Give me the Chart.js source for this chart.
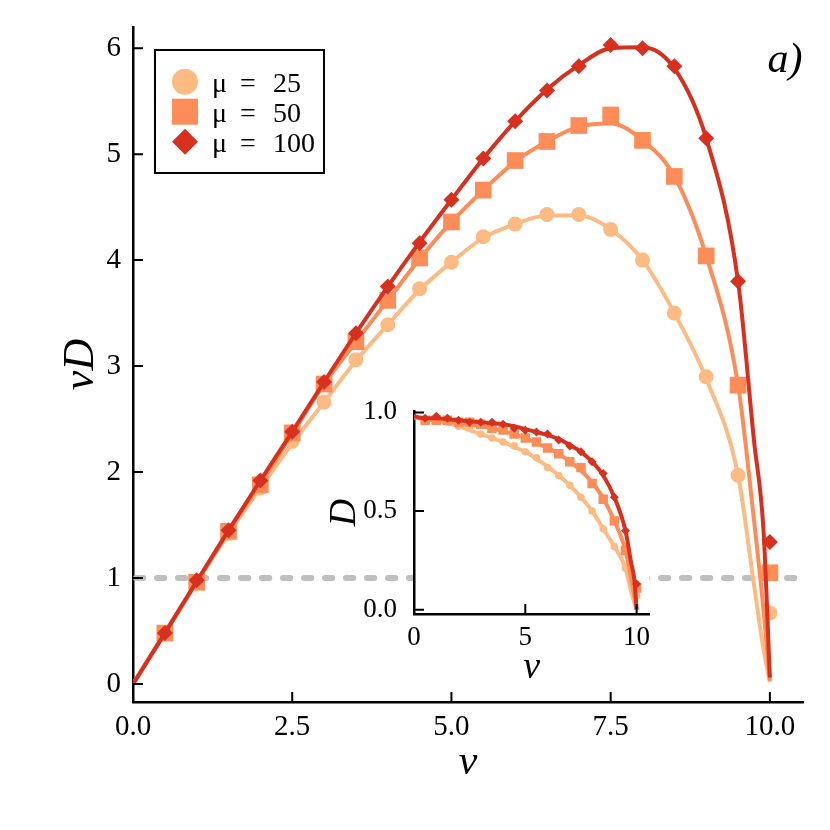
<!DOCTYPE html>
<html>
<head>
<meta charset="utf-8">
<script src="https://cdn.jsdelivr.net/npm/chart.js@4.4.1/dist/chart.umd.min.js"></script>
<style>
  html, body { margin: 0; padding: 0; background: #fff; }
  #wrap { position: relative; width: 830px; height: 830px; }
  #main { position: absolute; left: 0; top: 0; }
  #inset { position: absolute; left: 300px; top: 380px; }
</style>
</head>
<body>
<div id="wrap">
  <canvas id="main" width="830" height="830"></canvas>
  <canvas id="inset" width="380" height="320"></canvas>
</div>
<script>
// nu values of the markers and of the sampled theory curves
const markerNu = [0.5, 1, 1.5, 2, 2.5, 3, 3.5, 4, 4.5, 5, 5.5, 6, 6.5, 7, 7.5, 8, 8.5, 9, 9.5, 10];
const curveNu = [0, 0.5, 1, 1.5, 2, 2.5, 3, 3.5, 4, 4.5, 5, 5.5, 6, 6.5, 7, 7.5, 8, 8.5, 9, 9.5, 9.75, 9.9, 10];

// main panel: nu*D
const mark25 = [0.48, 0.96, 1.42, 1.85, 2.29, 2.66, 3.06, 3.39, 3.73, 3.98, 4.22, 4.34, 4.43, 4.43, 4.29, 4.00, 3.50, 2.90, 1.97, 0.67];
const mark50 = [0.48, 0.96, 1.44, 1.88, 2.37, 2.83, 3.23, 3.62, 4.02, 4.36, 4.66, 4.94, 5.12, 5.27, 5.37, 5.13, 4.79, 4.04, 2.82, 1.05];
const mark100 = [0.48, 0.98, 1.45, 1.92, 2.38, 2.85, 3.31, 3.75, 4.16, 4.57, 4.96, 5.31, 5.60, 5.83, 6.03, 6.00, 5.83, 5.15, 3.80, 1.34];
const curve25 = [0, 0.48, 0.96, 1.42, 1.85, 2.27, 2.66, 3.05, 3.39, 3.72, 3.98, 4.21, 4.34, 4.42, 4.42, 4.29, 4.00, 3.50, 2.88, 1.97, 0.94, 0.33, 0.02];
const curve50 = [0, 0.48, 0.96, 1.44, 1.89, 2.36, 2.83, 3.23, 3.62, 4.01, 4.36, 4.66, 4.93, 5.12, 5.26, 5.29, 5.13, 4.79, 4.04, 2.82, 1.55, 0.70, 0.03];
const curve100 = [0, 0.48, 0.97, 1.45, 1.92, 2.38, 2.85, 3.31, 3.75, 4.17, 4.57, 4.96, 5.31, 5.61, 5.84, 6.00, 6.01, 5.81, 5.15, 3.80, 2.30, 1.45, 0.06];

// inset: D
const dMark25 = [0.96, 0.96, 0.95, 0.93, 0.92, 0.89, 0.87, 0.85, 0.83, 0.80, 0.77, 0.72, 0.68, 0.63, 0.57, 0.50, 0.41, 0.32, 0.21, 0.07];
const dMark50 = [0.96, 0.96, 0.96, 0.95, 0.95, 0.94, 0.92, 0.91, 0.89, 0.87, 0.85, 0.82, 0.79, 0.75, 0.72, 0.64, 0.56, 0.45, 0.30, 0.11];
const dMark100 = [0.97, 0.98, 0.97, 0.96, 0.95, 0.95, 0.95, 0.94, 0.92, 0.91, 0.90, 0.89, 0.86, 0.83, 0.80, 0.75, 0.69, 0.57, 0.40, 0.13];
const dCurve25 = [0.975, 0.965, 0.955, 0.945, 0.93, 0.91, 0.89, 0.87, 0.85, 0.825, 0.80, 0.765, 0.725, 0.68, 0.63, 0.57, 0.50, 0.41, 0.32, 0.21, 0.095, 0.035, 0];
const dCurve50 = [0.975, 0.965, 0.96, 0.955, 0.945, 0.94, 0.93, 0.92, 0.905, 0.89, 0.87, 0.845, 0.82, 0.79, 0.75, 0.705, 0.645, 0.565, 0.45, 0.30, 0.16, 0.07, 0];
const dCurve100 = [0.98, 0.97, 0.97, 0.965, 0.96, 0.955, 0.95, 0.945, 0.94, 0.93, 0.915, 0.90, 0.885, 0.865, 0.835, 0.80, 0.75, 0.68, 0.57, 0.40, 0.24, 0.15, 0];

const seriesLabels = ['μ = 25', 'μ = 50', 'μ = 100'];
const xTicks = [0, 2.5, 5, 7.5, 10];
const yTicks = [0, 1, 2, 3, 4, 5, 6];
const insetXTicks = [0, 5, 10];
const insetYTicks = [0, 0.5, 1];
const threshold = 1;

const colors = ['#fdbb84', '#fc8d59', '#d7301f'];
const styles = ['circle', 'rect', 'rectRot'];
const serif = "'Liberation Serif', 'DejaVu Serif', serif";

Chart.defaults.font.family = serif;
Chart.defaults.color = '#000';

function points( xs, ys ) {
	return xs.map( ( x, i ) => ( { x: x, y: ys[ i ] } ) );
}

function buildSets( curves, marks, radii, lineWidth, withLabels ) {
	let sets = [];
	curves.forEach( function ( curve, i ) {
		sets.push( {
			label: '',
			data: points( curveNu, curve ),
			showLine: true,
			borderColor: colors[ i ],
			borderWidth: lineWidth,
			pointRadius: 0,
			tension: 0.4,
			cubicInterpolationMode: 'monotone',
			order: 10 - 2 * i
		} );
		sets.push( {
			label: withLabels ? seriesLabels[ i ] : '',
			data: points( markerNu, marks[ i ] ),
			showLine: false,
			pointStyle: styles[ i ],
			pointRadius: radii[ i ],
			pointBackgroundColor: colors[ i ],
			pointBorderColor: colors[ i ],
			pointBorderWidth: 0,
			order: 9 - 2 * i
		} );
	} );
	return sets;
}

// ticks pointing into the plot
const inwardTicks = {
	id: 'inwardTicks',
	afterDatasetsDraw( chart, args, opts ) {
		const { ctx, chartArea, scales: { x, y } } = chart;
		ctx.save();
		ctx.strokeStyle = '#000';
		ctx.lineWidth = opts.width || 2;
		ctx.beginPath();
		x.ticks.forEach( function ( t ) {
			const px = x.getPixelForValue( t.value );
			ctx.moveTo( px, chartArea.bottom );
			ctx.lineTo( px, chartArea.bottom - opts.length );
		} );
		y.ticks.forEach( function ( t ) {
			const py = y.getPixelForValue( t.value );
			ctx.moveTo( chartArea.left, py );
			ctx.lineTo( chartArea.left + opts.length, py );
		} );
		ctx.stroke();
		ctx.restore();
	}
};

// grey dashed level line
const thresholdLine = {
	id: 'thresholdLine',
	beforeDatasetsDraw( chart ) {
		const { ctx, chartArea, scales: { y } } = chart;
		const py = y.getPixelForValue( threshold );
		ctx.save();
		ctx.strokeStyle = '#bfbfbf';
		ctx.lineWidth = 6;
		ctx.lineCap = 'round';
		ctx.setLineDash( [ 7.3, 13.7 ] );
		ctx.beginPath();
		ctx.moveTo( chartArea.left + 3, py );
		ctx.lineTo( chartArea.right, py );
		ctx.stroke();
		ctx.restore();
	}
};

function drawMarker( ctx, style, cx, cy, size ) {
	ctx.beginPath();
	if ( style === 'circle' ) {
		ctx.arc( cx, cy, size, 0, Math.PI * 2 );
	} else if ( style === 'rect' ) {
		ctx.rect( cx - size, cy - size, size * 2, size * 2 );
	} else {
		ctx.moveTo( cx, cy - size );
		ctx.lineTo( cx + size, cy );
		ctx.lineTo( cx, cy + size );
		ctx.lineTo( cx - size, cy );
		ctx.closePath();
	}
	ctx.fill();
}

// framed legend in the upper left corner
const boxLegend = {
	id: 'boxLegend',
	afterDraw( chart ) {
		const ctx = chart.ctx;
		const sets = chart.data.datasets.filter( d => d.label );
		ctx.save();
		ctx.fillStyle = '#fff';
		ctx.fillRect( 155, 50, 169, 123 );
		ctx.lineWidth = 2;
		ctx.strokeStyle = '#000';
		ctx.strokeRect( 155, 50, 169, 123 );
		ctx.font = '28px ' + serif;
		ctx.textBaseline = 'alphabetic';
		sets.forEach( function ( d, i ) {
			const cy = 81.7 + i * 30;
			ctx.fillStyle = d.pointBackgroundColor;
			drawMarker( ctx, d.pointStyle, 185, cy, 13 );
			const parts = d.label.split( ' ' );
			ctx.fillStyle = '#000';
			ctx.textAlign = 'left';
			ctx.fillText( parts[ 0 ], 212, cy + 10 );
			ctx.fillText( parts[ 1 ], 240, cy + 10 );
			ctx.fillText( parts[ 2 ], 273, cy + 10 );
		} );
		ctx.font = 'italic 42px ' + serif;
		ctx.textAlign = 'center';
		ctx.textBaseline = 'middle';
		ctx.fillText( 'a)', 785, 61 );
		ctx.restore();
	}
};

// white plot area so the inset hides what is behind it
const insetBackground = {
	id: 'insetBackground',
	beforeDraw( chart ) {
		const { ctx, chartArea } = chart;
		ctx.save();
		ctx.fillStyle = '#fff';
		ctx.fillRect( chartArea.left, chartArea.top, chartArea.right - chartArea.left, chartArea.bottom - chartArea.top );
		ctx.restore();
	}
};

// Main panel
new Chart( document.getElementById( 'main' ), {
	type: 'scatter',
	data: {
		datasets: buildSets( [ curve25, curve50, curve100 ], [ mark25, mark50, mark100 ], [ 7.5, 11.8, 8 ], 4, true )
	},
	options: {
		responsive: false,
		animation: false,
		devicePixelRatio: 1,
		events: [],
		layout: { padding: { left: 0, top: 27, right: 27, bottom: 0 } },
		plugins: {
			legend: { display: false },
			tooltip: { enabled: false },
			inwardTicks: { length: 10, width: 2 }
		},
		scales: {
			x: {
				type: 'linear',
				min: 0,
				max: 10.52,
				afterBuildTicks: function ( s ) { s.ticks = xTicks.map( v => ( { value: v } ) ); },
				afterFit: function ( s ) { s.height = 128; },
				grid: { display: false },
				border: { display: true, color: '#000', width: 2.5 },
				ticks: { padding: 0, font: { size: 29 }, color: '#000', callback: v => v.toFixed( 1 ) },
				title: { display: true, text: 'ν', font: { size: 42, style: 'italic' }, padding: { top: 0, bottom: 42 } }
			},
			y: {
				type: 'linear',
				min: -0.17,
				max: 6.2,
				afterBuildTicks: function ( s ) { s.ticks = yTicks.map( v => ( { value: v } ) ); },
				afterFit: function ( s ) { s.width = 133; },
				grid: { display: false },
				border: { display: true, color: '#000', width: 2.5 },
				ticks: { padding: 4, font: { size: 29 }, color: '#000', callback: v => String( v ) },
				title: { display: true, text: 'νD', font: { size: 44, style: 'italic' }, padding: { top: 55, bottom: 0 } }
			}
		}
	},
	plugins: [ thresholdLine, inwardTicks, boxLegend ]
} );

// Inset
new Chart( document.getElementById( 'inset' ), {
	type: 'scatter',
	data: {
		datasets: buildSets( [ dCurve25, dCurve50, dCurve100 ], [ dMark25, dMark50, dMark100 ], [ 3.8, 6.7, 4.5 ], 4, false )
	},
	options: {
		responsive: false,
		animation: false,
		devicePixelRatio: 1,
		events: [],
		layout: { padding: { left: 0, top: 31, right: 30.7, bottom: 0 } },
		plugins: {
			legend: { display: false },
			tooltip: { enabled: false },
			inwardTicks: { length: 10, width: 2 }
		},
		scales: {
			x: {
				type: 'linear',
				min: 0,
				max: 10.57,
				afterBuildTicks: function ( s ) { s.ticks = insetXTicks.map( v => ( { value: v } ) ); },
				afterFit: function ( s ) { s.height = 86; },
				grid: { display: false },
				border: { display: true, color: '#000', width: 2.5 },
				ticks: { padding: 0, font: { size: 27 }, color: '#000', callback: v => String( v ) },
				title: { display: true, text: 'ν', font: { size: 38, style: 'italic' }, padding: { top: 0, bottom: 9 } }
			},
			y: {
				type: 'linear',
				min: -0.022,
				max: 1.007,
				afterBuildTicks: function ( s ) { s.ticks = insetYTicks.map( v => ( { value: v } ) ); },
				afterFit: function ( s ) { s.width = 114; },
				grid: { display: false },
				border: { display: true, color: '#000', width: 2.5 },
				ticks: { padding: 9, font: { size: 27 }, color: '#000', callback: v => v.toFixed( 1 ) },
				title: { display: true, text: 'D', font: { size: 38, style: 'italic' }, padding: { top: 22, bottom: 0 } }
			}
		}
	},
	plugins: [ insetBackground, inwardTicks ]
} );
</script>
</body>
</html>
